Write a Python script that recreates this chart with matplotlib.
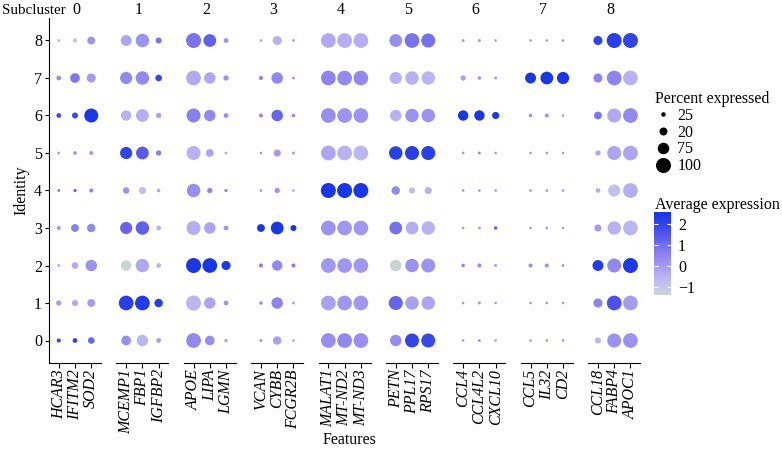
import matplotlib.pyplot as plt
import numpy as np
from matplotlib.colors import LinearSegmentedColormap, Normalize
from matplotlib.lines import Line2D

plt.rcParams['font.family'] = ['Liberation Serif', 'DejaVu Serif']

subclusters = ['0', '1', '2', '3', '4', '5', '6', '7', '8']
genes = ['HCAR3', 'IFITM2', 'SOD2', 'MCEMP1', 'FBP1', 'IGFBP2',
         'APOE', 'LIPA', 'LGMN', 'VCAN', 'CYBB', 'FCGR2B',
         'MALAT1', 'MT-ND2', 'MT-ND3', 'PETN', 'PPL17', 'RPS17',
         'CCL4', 'CCL4L2', 'CXCL10', 'CCL5', 'IL32', 'CD2',
         'CCL18', 'FABP4', 'APOC1']
# rows from top (identity 8) to bottom (identity 0)
identities = [8, 7, 6, 5, 4, 3, 2, 1, 0]

pct_expr = [
    [13, 22, 49, 71, 89, 36, 100, 84, 27, 11, 58, 13, 98, 98, 98, 84, 98, 93, 13, 13, 11, 11, 11, 11, 58, 100, 100],
    [27, 62, 58, 80, 89, 40, 98, 75, 31, 22, 75, 13, 98, 98, 98, 80, 89, 89, 31, 18, 13, 71, 84, 80, 58, 98, 98],
    [27, 36, 93, 67, 84, 31, 93, 75, 27, 22, 75, 18, 98, 98, 98, 75, 89, 89, 67, 67, 44, 18, 22, 11, 49, 93, 98],
    [13, 18, 22, 80, 84, 31, 93, 49, 13, 11, 44, 13, 98, 98, 98, 89, 93, 93, 11, 13, 11, 11, 11, 11, 31, 93, 98],
    [13, 16, 22, 40, 44, 18, 89, 31, 16, 11, 31, 11, 100, 100, 100, 53, 36, 44, 11, 11, 11, 11, 11, 11, 27, 80, 98],
    [22, 49, 53, 80, 89, 27, 93, 75, 27, 49, 84, 36, 98, 98, 98, 84, 84, 89, 11, 13, 18, 11, 11, 11, 44, 89, 98],
    [13, 40, 75, 67, 89, 27, 100, 98, 58, 22, 67, 22, 98, 98, 98, 75, 89, 93, 18, 22, 13, 22, 22, 13, 71, 93, 100],
    [31, 36, 49, 98, 98, 53, 100, 75, 27, 18, 75, 13, 98, 98, 98, 93, 89, 89, 11, 13, 11, 11, 11, 11, 58, 98, 98],
    [22, 27, 40, 62, 75, 27, 98, 62, 18, 13, 53, 11, 98, 98, 98, 75, 93, 93, 11, 13, 11, 11, 11, 11, 36, 93, 98],
]

avg_expr = [
    [-0.5, -0.8, 0.2, -0.2, 0.2, 1.0, 0.9, 1.3, 0.2, 0.0, -0.5, 0.0, -0.3, -0.4, -0.4, 0.3, 0.9, 1.0, 0.2, 0.2, 0.2, 0.2, 0.2, 0.2, 2.0, 2.2, 2.0],
    [0.3, 0.8, 0.0, 0.4, 0.4, 2.0, -0.3, -0.3, 0.2, 0.6, 0.4, 0.2, 0.5, 0.4, 0.4, -0.5, -0.5, -0.6, -0.1, 0.2, 0.2, 2.5, 2.5, 2.5, 0.5, 0.5, -0.5],
    [1.8, 1.8, 2.5, -0.5, -0.4, -0.1, 0.6, 0.4, 0.3, 0.4, 1.2, 0.4, 0.3, 0.2, 0.2, -0.5, 0.2, 0.2, 2.5, 2.5, 2.4, 0.3, 0.1, 0.2, 0.8, -0.3, 0.4],
    [0.0, 0.3, 0.0, 2.0, 1.4, 0.7, -0.5, -0.2, -0.3, 0.3, 0.0, 0.2, -0.2, -0.5, -0.6, 2.2, 2.2, 2.2, 0.2, 0.4, 0.2, 0.2, 0.2, 0.2, -0.3, -0.2, -0.2],
    [1.0, 1.2, 0.5, 0.2, -0.8, -0.2, 0.3, 0.5, 0.5, 0.4, 0.2, 0.0, 2.5, 2.5, 2.5, 0.4, -0.7, -0.5, 0.3, 0.4, 0.2, 0.3, 0.3, 0.3, -0.4, -0.9, -0.4],
    [0.0, 0.6, 0.4, 1.2, 1.3, -0.5, -0.4, -0.2, 0.2, 2.5, 2.5, 2.5, 0.2, 0.1, 0.1, 1.0, -0.4, -0.5, 0.2, 0.2, 1.2, 0.3, 0.2, 0.2, 0.0, -0.5, -0.6],
    [-0.3, -0.3, 0.2, -1.4, -0.3, -0.6, 2.5, 2.5, 2.4, 0.6, 0.4, 0.6, 0.1, 0.1, 0.1, -1.4, 0.2, 0.2, 0.5, 0.3, 0.2, 0.3, 0.2, 0.2, 2.3, 0.4, 2.4],
    [0.0, -0.3, 0.0, 2.2, 2.3, 2.3, -0.6, -0.2, 0.2, 0.3, 0.5, 0.0, -0.1, 0.1, 0.1, 1.2, -0.1, -0.2, 0.2, 0.2, 0.2, 0.2, 0.3, 0.2, 0.5, 1.6, 0.0],
    [2.0, 2.0, 1.2, 0.3, -0.6, 0.0, 0.4, 0.3, -0.2, 0.4, -0.1, 0.0, 0.3, 0.4, 0.3, 0.3, 2.0, 1.9, 0.1, 0.3, 0.1, 0.3, 0.3, 0.3, -0.6, 0.2, 0.2],
]

legend_pct = [25, 50, 75, 100]
legend_labels = ['25', '20', '75', '100']
cbar_ticks = [-1, 0, 1, 2]

pct = np.array(pct_expr, dtype=float)
avg = np.array(avg_expr, dtype=float)

cmap = LinearSegmentedColormap.from_list('expr', [
    (0.0, '#c8d3d6'), (0.1, '#c4c6ec'), (0.225, '#b8b2f2'), (0.35, '#a59cf0'),
    (0.475, '#8e84ee'), (0.6, '#7570ec'), (0.725, '#5455ea'), (0.85, '#3344e8'),
    (1.0, '#1535e6')])
norm = Normalize(vmin=-1.4, vmax=2.6)


def dot_diam_pt(p):
    # dot diameter in px grows linearly with percent expressed, converted to pt
    return (1.0 + 0.14 * np.asarray(p)) * 0.72


W, H = 782, 451
FS = 11.5
fig = plt.figure(figsize=(W / 100, H / 100), dpi=100)

for g in range(len(subclusters)):
    left = 49 + g * 67.4
    ax = fig.add_axes([left / W, 88 / H, 52 / W, 345 / H])
    ax.patch.set_alpha(0)
    cols = slice(3 * g, 3 * g + 3)
    xx, yy = np.meshgrid([1, 2, 3], identities)
    sc = ax.scatter(xx.ravel(), yy.ravel(),
                    s=dot_diam_pt(pct[:, cols]).ravel() ** 2,
                    c=avg[:, cols].ravel(), cmap=cmap, norm=norm,
                    linewidths=0, clip_on=False)
    ax.set_xlim(0.4, 3.6)
    ax.set_ylim(-0.6, 8.6)
    ax.set_xticks([1, 2, 3])
    ax.set_xticklabels(genes[cols], rotation=90, style='italic', fontsize=FS)
    ax.spines['top'].set_visible(False)
    ax.spines['right'].set_visible(False)
    ax.spines['bottom'].set_linewidth(0.8)
    ax.tick_params(axis='x', length=3.5, width=0.8, pad=1)
    if g == 0:
        ax.set_yticks(range(9))
        ax.tick_params(axis='y', length=3, width=0.8, pad=2, labelsize=FS)
        ax.spines['left'].set_linewidth(0.8)
    else:
        ax.spines['left'].set_visible(False)
        ax.set_yticks([])
    shift = 1 if g == 0 else -4
    ax.text(0.5 + shift / 52, 1 + 8 / 345, subclusters[g], transform=ax.transAxes,
            ha='center', va='center', fontsize=FS)

fig.text(2 / W, 1 - 10 / H, 'Subcluster', ha='left', va='center', fontsize=10.8)
fig.text(21 / W, 1 - 190 / H, 'Identity', rotation=90, ha='center', va='center', fontsize=FS)
fig.text(350 / W, 1 - 440 / H, 'Features', ha='center', va='center', fontsize=FS)

handles = [Line2D([], [], marker='o', linestyle='', color='black',
                  markersize=dot_diam_pt(p), markeredgewidth=0) for p in legend_pct]
fig.legend(handles, legend_labels, title='Percent expressed', loc='upper left',
           bbox_to_anchor=(647 / W, 1 - 83 / H), frameon=False, fontsize=FS,
           title_fontsize=FS, alignment='left', handletextpad=0.4,
           labelspacing=0.05, borderpad=0, handlelength=1.0)

fig.text(655 / W, 1 - 205 / H, 'Average expression', ha='left', va='center', fontsize=FS)
cax = fig.add_axes([654 / W, (H - 295) / H, 17 / W, 83 / H])
cb = fig.colorbar(sc, cax=cax, ticks=cbar_ticks)
cb.outline.set_visible(False)
cax.tick_params(which='both', direction='in', left=True, right=True,
                color='white', length=3, width=0.8, labelsize=FS, pad=5)
cax.minorticks_off()

fig.savefig('out.png', dpi=100)
